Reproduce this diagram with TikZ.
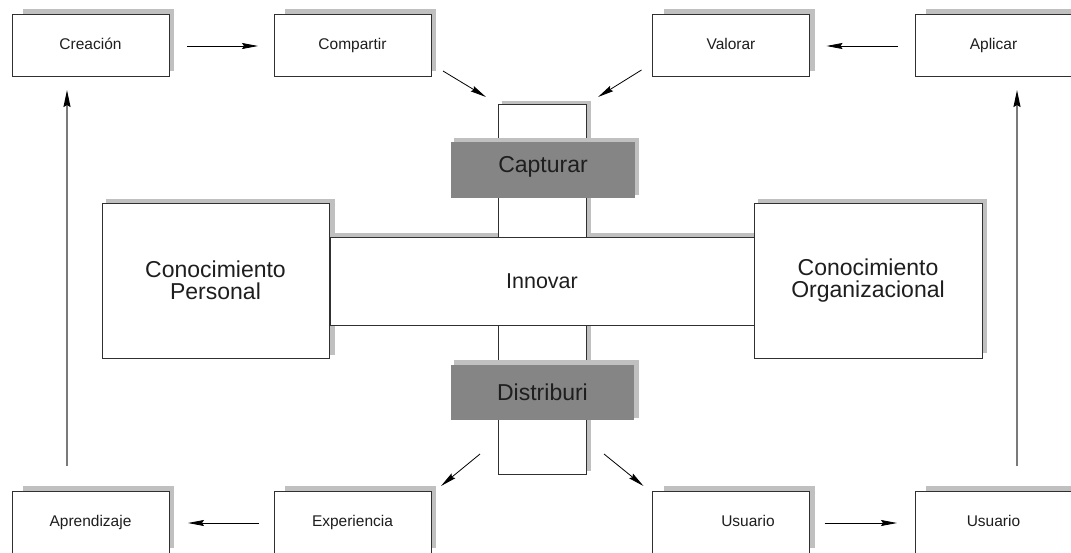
\documentclass[tikz,border=0pt]{standalone}
\usepackage{fontspec}
\setmainfont{Liberation Sans}
\usetikzlibrary{arrows.meta}
\pgfdeclarelayer{paper}
\pgfdeclarelayer{shade}
\pgfdeclarelayer{topshade}
\pgfdeclarelayer{top}
\pgfsetlayers{paper,shade,main,topshade,top}
\definecolor{shadecol}{HTML}{C0C0C0}
\definecolor{panelcol}{HTML}{858585}
\definecolor{inkcol}{HTML}{1E1E1E}
\definecolor{edgecol}{HTML}{303030}
\definecolor{stemcol}{HTML}{7A7A7A}
% drop shadow behind a box: node, then left/top and right/bottom offsets
\newcommand\boxshade[5]{\fill[shadecol] ([xshift=#2pt,yshift=#3pt]#1.north west) rectangle ([xshift=#4pt,yshift=#5pt]#1.south east);}
\tikzset{
  plainbox/.style={draw=edgecol, fill=white, line width=0.9pt, rectangle,
    inner sep=0pt, outer sep=0pt, text=inkcol},
  smallbox/.style={plainbox, minimum width=157pt, minimum height=62pt,
    font=\fontsize{15.5}{18}\selectfont, text height=8pt, text depth=0pt},
  bigbox/.style={plainbox, minimum width=227pt, minimum height=155pt,
    font=\fontsize{23}{21.5}\selectfont, align=center},
  column/.style={plainbox, minimum width=88pt},
  panel/.style={rectangle, fill=panelcol, inner sep=0pt, outer sep=0pt,
    minimum width=184pt, minimum height=56pt, text=inkcol,
    font=\fontsize{23}{26}\selectfont},
  link/.style={draw=black, line width=0.8pt,
    -{Stealth[length=16pt,width=6pt,inset=2pt]}},
  uplink/.style={draw=stemcol, line width=1.6pt,
    -{Stealth[length=17pt,width=7pt,inset=2pt,color=black]}}
}
\begin{document}
\begin{tikzpicture}[x=1pt,y=-1pt]
\begin{pgfonlayer}{paper}
  \fill[white] (0,0) rectangle (1071,552);
\end{pgfonlayer}
\useasboundingbox (0,0) rectangle (1071,552);

% outer ring of small boxes
\node[smallbox] (creacion)    at (90.5,45)   {Creación};
\node[smallbox] (compartir)   at (352.5,45)  {Compartir};
\node[smallbox] (valorar)     at (731,45)    {Valorar};
\node[smallbox] (aplicar)     at (993.5,45)  {Aplicar};
\node[smallbox] (aprendizaje) at (90.5,522)  {Aprendizaje};
\node[smallbox] (experiencia) at (352.5,522) {Experiencia};
\node[smallbox, label={[font=\fontsize{15.5}{18}\selectfont, text=inkcol,
      text height=8pt, text depth=0pt, xshift=17pt]center:Usuario}]
      (usuarioA) at (731,522) {};
\node[smallbox] (usuarioB)    at (993.5,522) {Usuario};

% central cross
\node[column, minimum height=133pt] (capcol) at (542,170.5) {};
\node[column, minimum height=149pt] (discol) at (542,399.5) {};
\node[plainbox, minimum width=424pt, minimum height=88pt,
      font=\fontsize{21.5}{24}\selectfont] (innovar) at (542,281) {Innovar};
\node[bigbox] (personal) at (215.5,280.5) {Conocimiento\\Personal};
\node[bigbox, minimum width=228pt] (organiz) at (868,280.5)
      {Conocimiento\\Organizacional};

\begin{pgfonlayer}{top}
  \node[panel, text height=4pt, text depth=0pt] (capturar) at (543,170) {Capturar};
  \node[panel, minimum width=183pt, minimum height=55pt] (distribuir)
        at (542.5,392.5) {Distriburi};
\end{pgfonlayer}

% shadows
\begin{pgfonlayer}{shade}
  \foreach \b in {creacion,compartir,valorar,aplicar,aprendizaje,experiencia,usuarioA,usuarioB}
    {\boxshade{\b}{11}{5}{5}{5}}
  \boxshade{personal}{4}{4}{6}{3}
  \boxshade{organiz}{4}{4}{5}{5}
  \boxshade{innovar}{5}{4}{5}{4}
  \boxshade{capcol}{4}{3}{5}{3}
  \boxshade{discol}{4}{3}{5}{3}
\end{pgfonlayer}
\begin{pgfonlayer}{topshade}
  \boxshade{capturar}{3}{4}{4}{3}
  \boxshade{distribuir}{3}{5}{5}{2}
\end{pgfonlayer}

% horizontal arrows
\draw[link] ([xshift=18pt,yshift=-1pt]creacion.east) -- ([xshift=-16pt,yshift=-1pt]compartir.west);
\draw[link] ([xshift=-17pt,yshift=-1pt]aplicar.west) -- ([xshift=17pt,yshift=-1pt]valorar.east);
\draw[link] ([xshift=-15pt,yshift=-1pt]experiencia.west) -- ([xshift=19pt,yshift=-1pt]aprendizaje.east);
\draw[link] ([xshift=15pt,yshift=-1pt]usuarioA.east) -- ([xshift=-18pt,yshift=-1pt]usuarioB.west);

% diagonal arrows into and out of the cross
\draw[link] ([xshift=12pt,yshift=5pt]compartir.south east) -- ([xshift=-12pt,yshift=7pt]capcol.north west);
\draw[link] ([xshift=-11pt,yshift=6pt]valorar.south west) -- ([xshift=12pt,yshift=7pt]capcol.north east);
\draw[link] ([xshift=-18pt,yshift=20pt]discol.south west) -- ([xshift=10pt,yshift=5pt]experiencia.north east);
\draw[link] ([xshift=18pt,yshift=20pt]discol.south east) -- ([xshift=-9pt,yshift=5pt]usuarioA.north west);

% long vertical arrows
\draw[uplink] ([xshift=-23.5pt,yshift=25pt]aprendizaje.north) -- ([xshift=-23.5pt,yshift=-14pt]creacion.south);
\draw[uplink] ([xshift=23.5pt,yshift=25pt]usuarioB.north) -- ([xshift=23.5pt,yshift=-14pt]aplicar.south);
\end{tikzpicture}
\end{document}
